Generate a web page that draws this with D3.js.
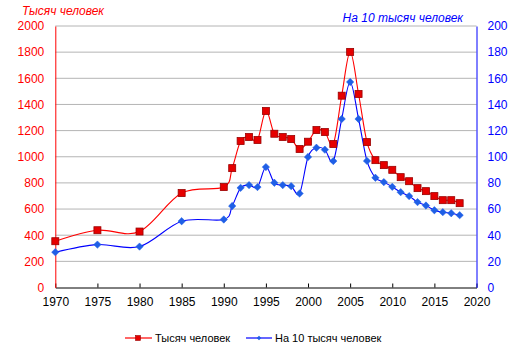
<!DOCTYPE html>
<html><head><meta charset="utf-8">
<script src="https://cdn.jsdelivr.net/npm/d3@7"></script>
<style>body{margin:0;background:#fff}svg{display:block;font-family:"Liberation Sans",Arial,sans-serif}</style>
</head><body><svg id="c" width="523" height="358"></svg>
<script>
const years = [1970,1975,1980,1985,1990,1991,1992,1993,1994,1995,1996,1997,1998,1999,2000,2001,2002,2003,2004,2005,2006,2007,2008,2009,2010,2011,2012,2013,2014,2015,2016,2017,2018];
const thousands = [354,438,428,722,768,913,1120,1151,1128,1350,1176,1151,1135,1059,1115,1204,1189,1097,1467,1802,1480,1112,974,936,900,844,813,760,737,699,668,668,645];
const per10k = [27.0,32.8,31.3,50.7,52.0,62.3,76.2,78.3,76.8,92.1,80.1,78.3,77.5,71.9,99.8,106.9,105.4,96.7,128.9,157.2,128.9,96.8,83.9,80.6,77.0,72.9,69.9,65.3,62.7,59.1,57.6,56.8,55.3];
const xTicks = [1970,1975,1980,1985,1990,1995,2000,2005,2010,2015,2020];
const leftTicks = [0,200,400,600,800,1000,1200,1400,1600,1800,2000];
const rightTicks = [0,20,40,60,80,100,120,140,160,180,200];
const leftTitle = "Тысяч человек";
const rightTitle = "На 10 тысяч человек";
const seriesNames = ["Тысяч человек","На 10 тысяч человек"];

const svg = d3.select("#c");
const L=55.3, R=476.5, T=26, B=287.5;
const x = d3.scaleLinear().domain([1970,2020]).range([L,R]);
const yL = d3.scaleLinear().domain([0,2000]).range([B,T]);
const yR = d3.scaleLinear().domain([0,200]).range([B,T]);
const fmt = d3.format("d");

// gridlines
svg.append("g").selectAll("line").data(leftTicks.filter(d=>d>0)).join("line")
  .attr("x1",L).attr("x2",R).attr("y1",d=>yL(d)).attr("y2",d=>yL(d))
  .attr("stroke","#b4b4b4").attr("stroke-width",1);

// axes
const gx = svg.append("g").attr("transform",`translate(0,${B})`)
  .call(d3.axisBottom(x).tickValues(xTicks).tickFormat(fmt).tickSize(4).tickSizeOuter(0));
gx.select(".domain").attr("stroke","#000");
gx.selectAll(".tick line").attr("stroke","#000").attr("y1",-4).attr("y2",0);
gx.selectAll("text").attr("font-size",12).attr("fill","#000").attr("dy","0.95em").attr("y",7);

const gl = svg.append("g").attr("transform",`translate(${L},0)`)
  .call(d3.axisLeft(yL).tickValues(leftTicks).tickFormat(fmt).tickSize(0).tickSizeOuter(0));
gl.select(".domain").attr("stroke","#ff0000");
gl.selectAll("text").attr("font-size",12).attr("fill","#ff0000").attr("x",-11);

const gr = svg.append("g").attr("transform",`translate(${R},0)`)
  .call(d3.axisRight(yR).tickValues(rightTicks).tickFormat(fmt).tickSize(0).tickSizeOuter(0));
gr.select(".domain").attr("stroke","#0000ff");
gr.selectAll("text").attr("font-size",12).attr("fill","#0000ff").attr("x",11);
svg.selectAll(".tick text").attr("font-family","Liberation Sans, Arial, sans-serif");

// titles
svg.append("text").attr("x",22).attr("y",15).attr("font-size",12).attr("font-style","italic")
  .attr("fill","#ff0000").text(leftTitle);
svg.append("text").attr("x",463).attr("y",22).attr("text-anchor","end").attr("font-size",12).attr("font-style","italic")
  .attr("fill","#0000ff").text(rightTitle);

const curve = d3.curveCatmullRom.alpha(0);
const dR = years.map((y,i)=>[x(y),yL(thousands[i])]);
const dB = years.map((y,i)=>[x(y),yR(per10k[i])]);

svg.append("path").attr("d",d3.line().curve(curve)(dB)).attr("fill","none").attr("stroke","#0000ff").attr("stroke-width",1.1);
svg.append("path").attr("d",d3.line().curve(curve)(dR)).attr("fill","none").attr("stroke","#ff0000").attr("stroke-width",1.1);

svg.append("g").selectAll("rect").data(dB).join("rect")
  .attr("x",-2.6).attr("y",-2.6).attr("width",5.2).attr("height",5.2)
  .attr("transform",d=>`translate(${d[0]},${d[1]}) rotate(45)`)
  .attr("fill","#1f5fe6").attr("stroke","#1f5fe6").attr("stroke-width",0.5);
svg.append("g").selectAll("rect").data(dR).join("rect")
  .attr("x",d=>d[0]-3.5).attr("y",d=>d[1]-3.5).attr("width",7).attr("height",7)
  .attr("fill","#e60000").attr("stroke","#990000").attr("stroke-width",0.8);

// legend
const lg = svg.append("g");
lg.append("line").attr("x1",125).attr("x2",152).attr("y1",338).attr("y2",338).attr("stroke","#ff0000").attr("stroke-width",1.2);
lg.append("rect").attr("x",135.5).attr("y",335.5).attr("width",5).attr("height",5).attr("fill","#e60000").attr("stroke","#990000").attr("stroke-width",0.6);
lg.append("text").attr("x",155).attr("y",342).attr("font-size",11).attr("fill","#000").text(seriesNames[0]);
lg.append("line").attr("x1",246).attr("x2",272).attr("y1",338).attr("y2",338).attr("stroke","#0000ff").attr("stroke-width",1.2);
lg.append("rect").attr("x",-1.6).attr("y",-1.6).attr("width",3.2).attr("height",3.2).attr("transform","translate(259,338) rotate(45)").attr("fill","#1f5fe6");
lg.append("text").attr("x",275).attr("y",342).attr("font-size",11).attr("fill","#000").text(seriesNames[1]);
</script></body></html>
